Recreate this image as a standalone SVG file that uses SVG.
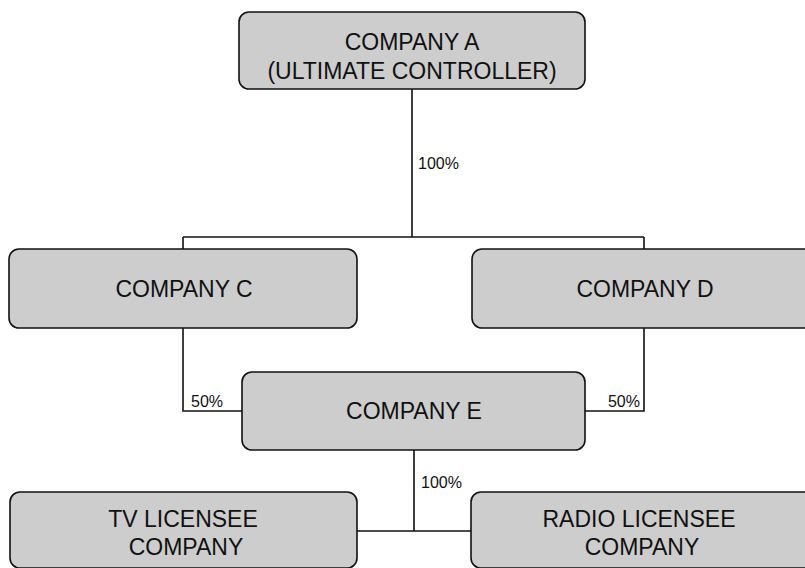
<svg xmlns="http://www.w3.org/2000/svg" width="805" height="568" viewBox="0 0 805 568">
<style>
.box{fill:#cdcdcd;stroke:#111;stroke-width:1.6}
.t{font-family:"Liberation Sans",Arial,sans-serif;font-size:23px;fill:#111;text-anchor:middle}
.p{font-family:"Liberation Sans",Arial,sans-serif;font-size:16px;fill:#111}
.ln{stroke:#111;stroke-width:1.6;fill:none}
</style>
<rect width="805" height="568" fill="#fff"/>
<g id="connectors">
<path class="ln" d="M412 89V237M183 237H644M183 237V249M644 237V249M183 328V411H242M644 328V411H585M414 450V531M357 531H471"/>
<text class="p" x="418" y="169">100%</text>
<text class="p" x="191" y="407">50%</text>
<text class="p" x="640" y="407" text-anchor="end">50%</text>
<text class="p" x="421" y="488">100%</text>
</g>
<g id="companyA">
<rect class="box" x="239" y="12" width="346" height="77" rx="10"/>
<text class="t" x="412" y="50">COMPANY A</text>
<text class="t" x="412" y="79">(ULTIMATE CONTROLLER)</text>
</g>
<g id="companyC">
<rect class="box" x="9" y="249" width="348" height="79" rx="10"/>
<text class="t" x="184" y="297">COMPANY C</text>
</g>
<g id="companyD">
<rect class="box" x="472" y="249" width="346" height="79" rx="10"/>
<text class="t" x="645" y="297">COMPANY D</text>
</g>
<g id="companyE">
<rect class="box" x="242" y="372" width="343" height="78" rx="10"/>
<text class="t" x="414" y="419">COMPANY E</text>
</g>
<g id="tvLicensee">
<rect class="box" x="10" y="492" width="347" height="76" rx="10"/>
<text class="t" x="183" y="527">TV LICENSEE</text>
<text class="t" x="186" y="555">COMPANY</text>
</g>
<g id="radioLicensee">
<rect class="box" x="471" y="492" width="347" height="76" rx="10"/>
<text class="t" x="639" y="527">RADIO LICENSEE</text>
<text class="t" x="642" y="555">COMPANY</text>
</g>
</svg>
